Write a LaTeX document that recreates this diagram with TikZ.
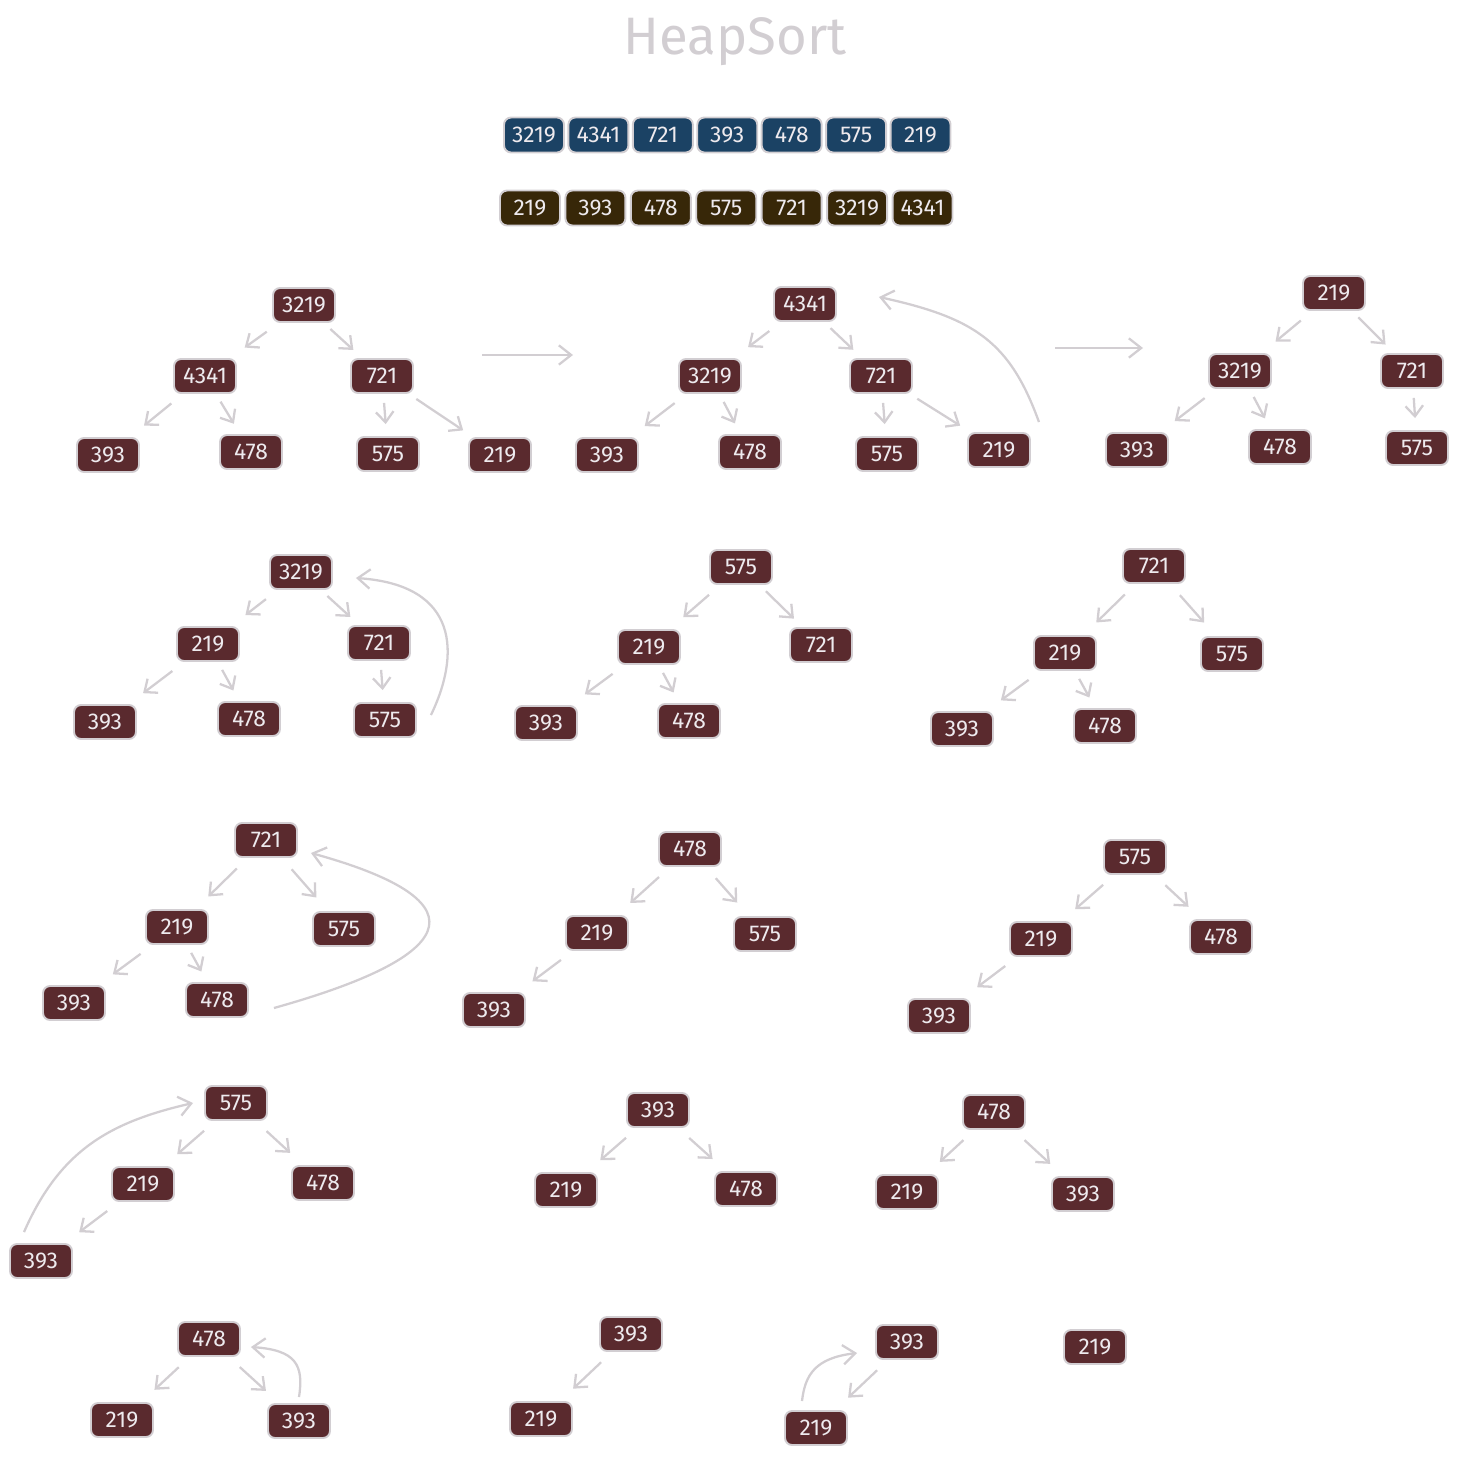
\documentclass[tikz,border=0pt]{standalone}
\usepackage{fontspec}
\setmainfont{Fira Sans}
\usepackage{tikz}
\usetikzlibrary{arrows.meta, positioning}
\definecolor{heapred}{HTML}{5A2A2E}
\definecolor{arrblue}{HTML}{1B4264}
\definecolor{arrbrown}{HTML}{372708}
\definecolor{strokegrey}{HTML}{D2CED2}
\definecolor{nodetext}{HTML}{EEEAEE}

\begin{document}
\begin{tikzpicture}[
  x=0.02cm, y=-0.02cm,
  hnode/.style={draw=strokegrey, fill=heapred, line width=1.1pt, rounded corners=4pt,
                minimum width=1.24cm, minimum height=0.68cm, inner sep=2pt,
                text=nodetext, font=\fontsize{13}{15}\selectfont},
  arraycell/.style={hnode, fill=#1, minimum width=1.2cm, minimum height=0.7cm},
  link/.style={-{Straight Barb[length=6pt,width=10pt]}, draw=strokegrey, line width=1.3pt,
               shorten <=0.18cm, shorten >=0.24cm},
  linkl/.style={link, shorten <=0.3cm, shorten >=0.36cm},
  moveline/.style={-{Straight Barb[length=7pt,width=11pt]}, draw=strokegrey, line width=1.3pt}
]
  \useasboundingbox (0,0) rectangle (1459,1457);

  % title
  \node[text=strokegrey, font=\fontsize{30}{34}\selectfont] (title) at (735,42) {HeapSort};

  % input array
  \node[arraycell=arrblue] (in1) at (534,135) {3219};
  \node[arraycell=arrblue, right=0.05cm of in1] (in2) {4341};
  \node[arraycell=arrblue, right=0.05cm of in2] (in3) {721};
  \node[arraycell=arrblue, right=0.05cm of in3] (in4) {393};
  \node[arraycell=arrblue, right=0.05cm of in4] (in5) {478};
  \node[arraycell=arrblue, right=0.05cm of in5] (in6) {575};
  \node[arraycell=arrblue, right=0.05cm of in6] (in7) {219};

  % sorted array
  \node[arraycell=arrbrown] (out1) at (530,208) {219};
  \node[arraycell=arrbrown, right=0.07cm of out1] (out2) {393};
  \node[arraycell=arrbrown, right=0.07cm of out2] (out3) {478};
  \node[arraycell=arrbrown, right=0.07cm of out3] (out4) {575};
  \node[arraycell=arrbrown, right=0.07cm of out4] (out5) {721};
  \node[arraycell=arrbrown, right=0.07cm of out5] (out6) {3219};
  \node[arraycell=arrbrown, right=0.07cm of out6] (out7) {4341};

  % tree 1
  \node[hnode] (t1-3219) at (304,305) {3219};
  \node[hnode] (t1-4341) at (205,376) {4341};
  \node[hnode] (t1-721)  at (382,376) {721};
  \node[hnode] (t1-393)  at (108,455) {393};
  \node[hnode] (t1-478)  at (251,452) {478};
  \node[hnode] (t1-575)  at (388,454) {575};
  \node[hnode] (t1-219)  at (500,455) {219};
  \draw[linkl] (t1-3219) -- (t1-4341);
  \draw[link]  (t1-3219) -- (t1-721);
  \draw[linkl] (t1-4341) -- (t1-393);
  \draw[link]  (t1-4341) -- (t1-478);
  \draw[link]  (t1-721)  -- (t1-575);
  \draw[link]  (t1-721)  -- (t1-219);

  \coordinate (go1a) at (482,355);
  \coordinate (go1b) at (573,355);
  \draw[moveline] (go1a) -- (go1b);

  % tree 2
  \node[hnode] (t2-4341) at (805,304) {4341};
  \node[hnode] (t2-3219) at (710,376) {3219};
  \node[hnode] (t2-721)  at (881,376) {721};
  \node[hnode] (t2-393)  at (607,455) {393};
  \node[hnode] (t2-478)  at (750,452) {478};
  \node[hnode] (t2-575)  at (887,454) {575};
  \node[hnode] (t2-219)  at (999,450) {219};
  \draw[linkl] (t2-4341) -- (t2-3219);
  \draw[link]  (t2-4341) -- (t2-721);
  \draw[linkl] (t2-3219) -- (t2-393);
  \draw[link]  (t2-3219) -- (t2-478);
  \draw[link]  (t2-721)  -- (t2-575);
  \draw[link]  (t2-721)  -- (t2-219);
  \draw[moveline] ([shift={(0.16cm,0.2cm)}]t2-219.north east)
    .. controls (1010,342) and (975,318) .. ([shift={(0.84cm,0.14cm)}]t2-4341.east);

  \coordinate (go2a) at (1055,348);
  \coordinate (go2b) at (1143,348);
  \draw[moveline] (go2a) -- (go2b);

  % tree 3
  \node[hnode] (t3-219)  at (1334,293) {219};
  \node[hnode] (t3-3219) at (1240,371) {3219};
  \node[hnode] (t3-721)  at (1412,371) {721};
  \node[hnode] (t3-393)  at (1137,450) {393};
  \node[hnode] (t3-478)  at (1280,447) {478};
  \node[hnode] (t3-575)  at (1417,448) {575};
  \draw[linkl] (t3-219)  -- (t3-3219);
  \draw[link]  (t3-219)  -- (t3-721);
  \draw[linkl] (t3-3219) -- (t3-393);
  \draw[link]  (t3-3219) -- (t3-478);
  \draw[link]  (t3-721)  -- (t3-575);

  % tree 4
  \node[hnode] (t4-3219) at (301,572) {3219};
  \node[hnode] (t4-219)  at (208,644) {219};
  \node[hnode] (t4-721)  at (379,643) {721};
  \node[hnode] (t4-393)  at (105,722) {393};
  \node[hnode] (t4-478)  at (249,719) {478};
  \node[hnode] (t4-575)  at (385,720) {575};
  \draw[linkl] (t4-3219) -- (t4-219);
  \draw[link]  (t4-3219) -- (t4-721);
  \draw[linkl] (t4-219)  -- (t4-393);
  \draw[link]  (t4-219)  -- (t4-478);
  \draw[link]  (t4-721)  -- (t4-575);
  \draw[moveline] ([shift={(0.28cm,0.1cm)}]t4-575.east)
    .. controls (460,655) and (460,585) .. ([shift={(0.46cm,-0.12cm)}]t4-3219.east);

  % tree 5
  \node[hnode] (t5-575) at (741,567) {575};
  \node[hnode] (t5-219) at (649,647) {219};
  \node[hnode] (t5-721) at (821,645) {721};
  \node[hnode] (t5-393) at (546,723) {393};
  \node[hnode] (t5-478) at (689,721) {478};
  \draw[linkl] (t5-575) -- (t5-219);
  \draw[link]  (t5-575) -- (t5-721);
  \draw[linkl] (t5-219) -- (t5-393);
  \draw[link]  (t5-219) -- (t5-478);

  % tree 6
  \node[hnode] (t6-721) at (1154,566) {721};
  \node[hnode] (t6-219) at (1065,653) {219};
  \node[hnode] (t6-575) at (1232,654) {575};
  \node[hnode] (t6-393) at (962,729)  {393};
  \node[hnode] (t6-478) at (1105,726) {478};
  \draw[linkl] (t6-721) -- (t6-219);
  \draw[linkl] (t6-721) -- (t6-575);
  \draw[linkl] (t6-219) -- (t6-393);
  \draw[link]  (t6-219) -- (t6-478);

  % tree 7
  \node[hnode] (t7-721) at (266,840)  {721};
  \node[hnode] (t7-219) at (177,927)  {219};
  \node[hnode] (t7-575) at (344,929)  {575};
  \node[hnode] (t7-393) at (74,1003)  {393};
  \node[hnode] (t7-478) at (217,1000) {478};
  \draw[linkl] (t7-721) -- (t7-219);
  \draw[linkl] (t7-721) -- (t7-575);
  \draw[linkl] (t7-219) -- (t7-393);
  \draw[link]  (t7-219) -- (t7-478);
  \draw[moveline] ([shift={(0.5cm,-0.16cm)}]t7-478.east)
    .. controls (474,952) and (474,898) .. ([shift={(0.26cm,-0.26cm)}]t7-721.east);

  % tree 8
  \node[hnode] (t8-478) at (690,849)  {478};
  \node[hnode] (t8-219) at (597,933)  {219};
  \node[hnode] (t8-575) at (765,934)  {575};
  \node[hnode] (t8-393) at (494,1010) {393};
  \draw[linkl] (t8-478) -- (t8-219);
  \draw[linkl] (t8-478) -- (t8-575);
  \draw[linkl] (t8-219) -- (t8-393);

  % tree 9
  \node[hnode] (t9-575) at (1135,857) {575};
  \node[hnode] (t9-219) at (1041,939) {219};
  \node[hnode] (t9-478) at (1221,937) {478};
  \node[hnode] (t9-393) at (939,1016) {393};
  \draw[linkl] (t9-575) -- (t9-219);
  \draw[linkl] (t9-575) -- (t9-478);
  \draw[linkl] (t9-219) -- (t9-393);

  % tree 10
  \node[hnode] (t10-575) at (236,1103) {575};
  \node[hnode] (t10-219) at (143,1184) {219};
  \node[hnode] (t10-478) at (323,1183) {478};
  \node[hnode] (t10-393) at (41,1261)  {393};
  \draw[linkl] (t10-575) -- (t10-219);
  \draw[linkl] (t10-575) -- (t10-478);
  \draw[linkl] (t10-219) -- (t10-393);
  \draw[moveline] ([shift={(-0.34cm,0.22cm)}]t10-393.north)
    .. controls (60,1150) and (110,1122) .. ([xshift=-0.22cm]t10-575.west);

  % tree 11
  \node[hnode] (t11-393) at (658,1110) {393};
  \node[hnode] (t11-219) at (566,1190) {219};
  \node[hnode] (t11-478) at (746,1189) {478};
  \draw[linkl] (t11-393) -- (t11-219);
  \draw[linkl] (t11-393) -- (t11-478);

  % tree 12
  \node[hnode] (t12-478) at (994,1112)  {478};
  \node[hnode] (t12-219) at (907,1192)  {219};
  \node[hnode] (t12-393) at (1083,1194) {393};
  \draw[linkl] (t12-478) -- (t12-219);
  \draw[linkl] (t12-478) -- (t12-393);

  % tree 13
  \node[hnode] (t13-478) at (209,1339) {478};
  \node[hnode] (t13-219) at (122,1420) {219};
  \node[hnode] (t13-393) at (299,1421) {393};
  \draw[linkl] (t13-478) -- (t13-219);
  \draw[linkl] (t13-478) -- (t13-393);
  \draw[moveline] ([yshift=0.12cm]t13-393.north)
    .. controls (304,1365) and (296,1350) .. ([shift={(0.2cm,-0.16cm)}]t13-478.east);

  % tree 14
  \node[hnode] (t14-393) at (631,1334) {393};
  \node[hnode] (t14-219) at (541,1419) {219};
  \draw[linkl] (t14-393) -- (t14-219);

  % tree 15
  \node[hnode] (t15-393) at (907,1342) {393};
  \node[hnode] (t15-219) at (816,1428) {219};
  \draw[linkl] (t15-393) -- (t15-219);
  \draw[moveline] ([shift={(-0.28cm,0.18cm)}]t15-219.north)
    .. controls (805,1375) and (815,1358) .. ([shift={(-0.36cm,-0.22cm)}]t15-393.west);

  % tree 16
  \node[hnode] (t16-219) at (1095,1347) {219};
\end{tikzpicture}
\end{document}
